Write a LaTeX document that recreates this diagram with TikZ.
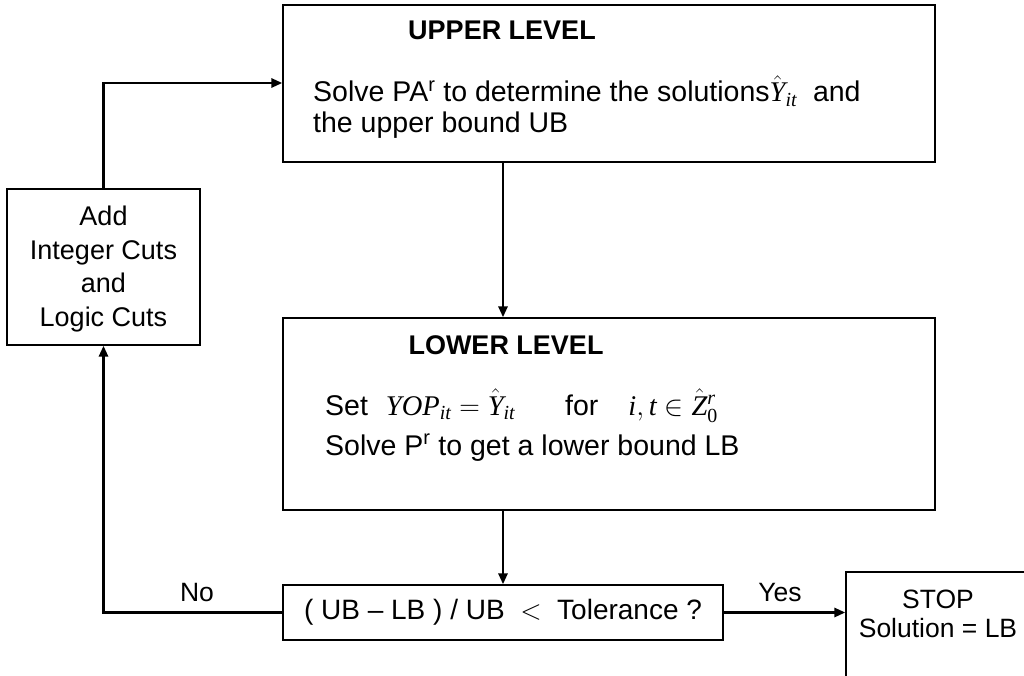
\RequirePackage{fix-cm}
\documentclass[tikz,border=0pt]{standalone}
\usepackage{amsmath}
\usepackage{fontspec}
\setmainfont{Liberation Sans}
\newfontfamily\tnr{Liberation Serif}
\usetikzlibrary{arrows.meta}
\newcommand{\tv}[1]{\text{\tnr\itshape #1}}
\tikzset{
  box/.style={draw, line width=1.3pt, inner sep=0pt},
  flow/.style={line width=2.8pt, -{Triangle[length=11pt,width=9pt]}},
  lbl/.style={inner sep=0pt},
  body/.style={lbl, anchor=base west, font=\fontsize{28.5}{34}\selectfont},
  ttl/.style={lbl, font=\fontsize{27}{32}\selectfont\bfseries},
}
\begin{document}
\begin{tikzpicture}[x=1pt,y=-1pt]
\clip (0,0) rectangle (1024,676);
\fill[white] (0,0) rectangle (1024,676);
% boxes
\node[box, minimum width=652pt, minimum height=157pt] (up) at (609,83.5) {};
\node[box, minimum width=652pt, minimum height=192pt] (low) at (609,414) {};
\node[box, minimum width=193pt, minimum height=156pt] (cuts) at (103.5,267) {};
\node[box, minimum width=440pt, minimum height=55pt] (dec) at (503,612.5) {};
\node[box, minimum width=194pt, minimum height=130pt] (stop) at (943,637) {};
% texts
\node[ttl] (upt) at (502,30) {UPPER LEVEL};
\node[body] (upb1) at (313,102)
  {Solve PA\textsuperscript{r} to determine the solutions$\hat{\tv{Y}}_{\tv{it}}$\ \ and};
\node[body] (upb2) at (313,133) {the upper bound UB};
\node[ttl] (lowt) at (506,345) {LOWER LEVEL};
\node[body] (lowa) at (325,415)
  {Set\hspace{18pt}$\tv{YOP}_{\tv{it}} = \hat{\tv{Y}}_{\tv{it}}$\hspace{50pt}for\hspace{30pt}$\tv{i}, \tv{t} \in \hat{\tv{Z}}{}^{\tv{r}}_{\text{\tnr 0}}$};
\node[body] (lowb) at (325,455) {Solve P\textsuperscript{r} to get a lower bound LB};
\node[lbl, align=center, font=\fontsize{27}{33.5}\selectfont] (cutst) at (103.5,269) {Add\\Integer Cuts\\and\\Logic Cuts};
\node[lbl, font=\fontsize{28}{33}\selectfont] (dect) at (dec) {( UB -- LB ) / UB \ $<$ \ Tolerance ?};
\node[lbl, align=center, font=\fontsize{26.5}{29}\selectfont] (stopt) at (938,613.5) {STOP\\Solution = LB};
\node[lbl, font=\fontsize{26.5}{30}\selectfont] (yes) at (780,593) {Yes};
\node[lbl, font=\fontsize{26.5}{30}\selectfont] (no) at (197,593) {No};
% connectors
\coordinate (c1) at (103.5,83);
\coordinate (c2) at (103.5,612.5);
\draw[flow] (up.south -| dec.north) -- (low.north -| dec.north);
\draw[flow] (low.south -| dec.north) -- (dec.north);
\draw[flow] (dec.east) -- (stop.west |- dec.east);
\draw[flow] (dec.west) -- (c2) -- (cuts.south);
\draw[flow] (cuts.north) -- (c1) -- (up.west |- c1);
\end{tikzpicture}
\end{document}
